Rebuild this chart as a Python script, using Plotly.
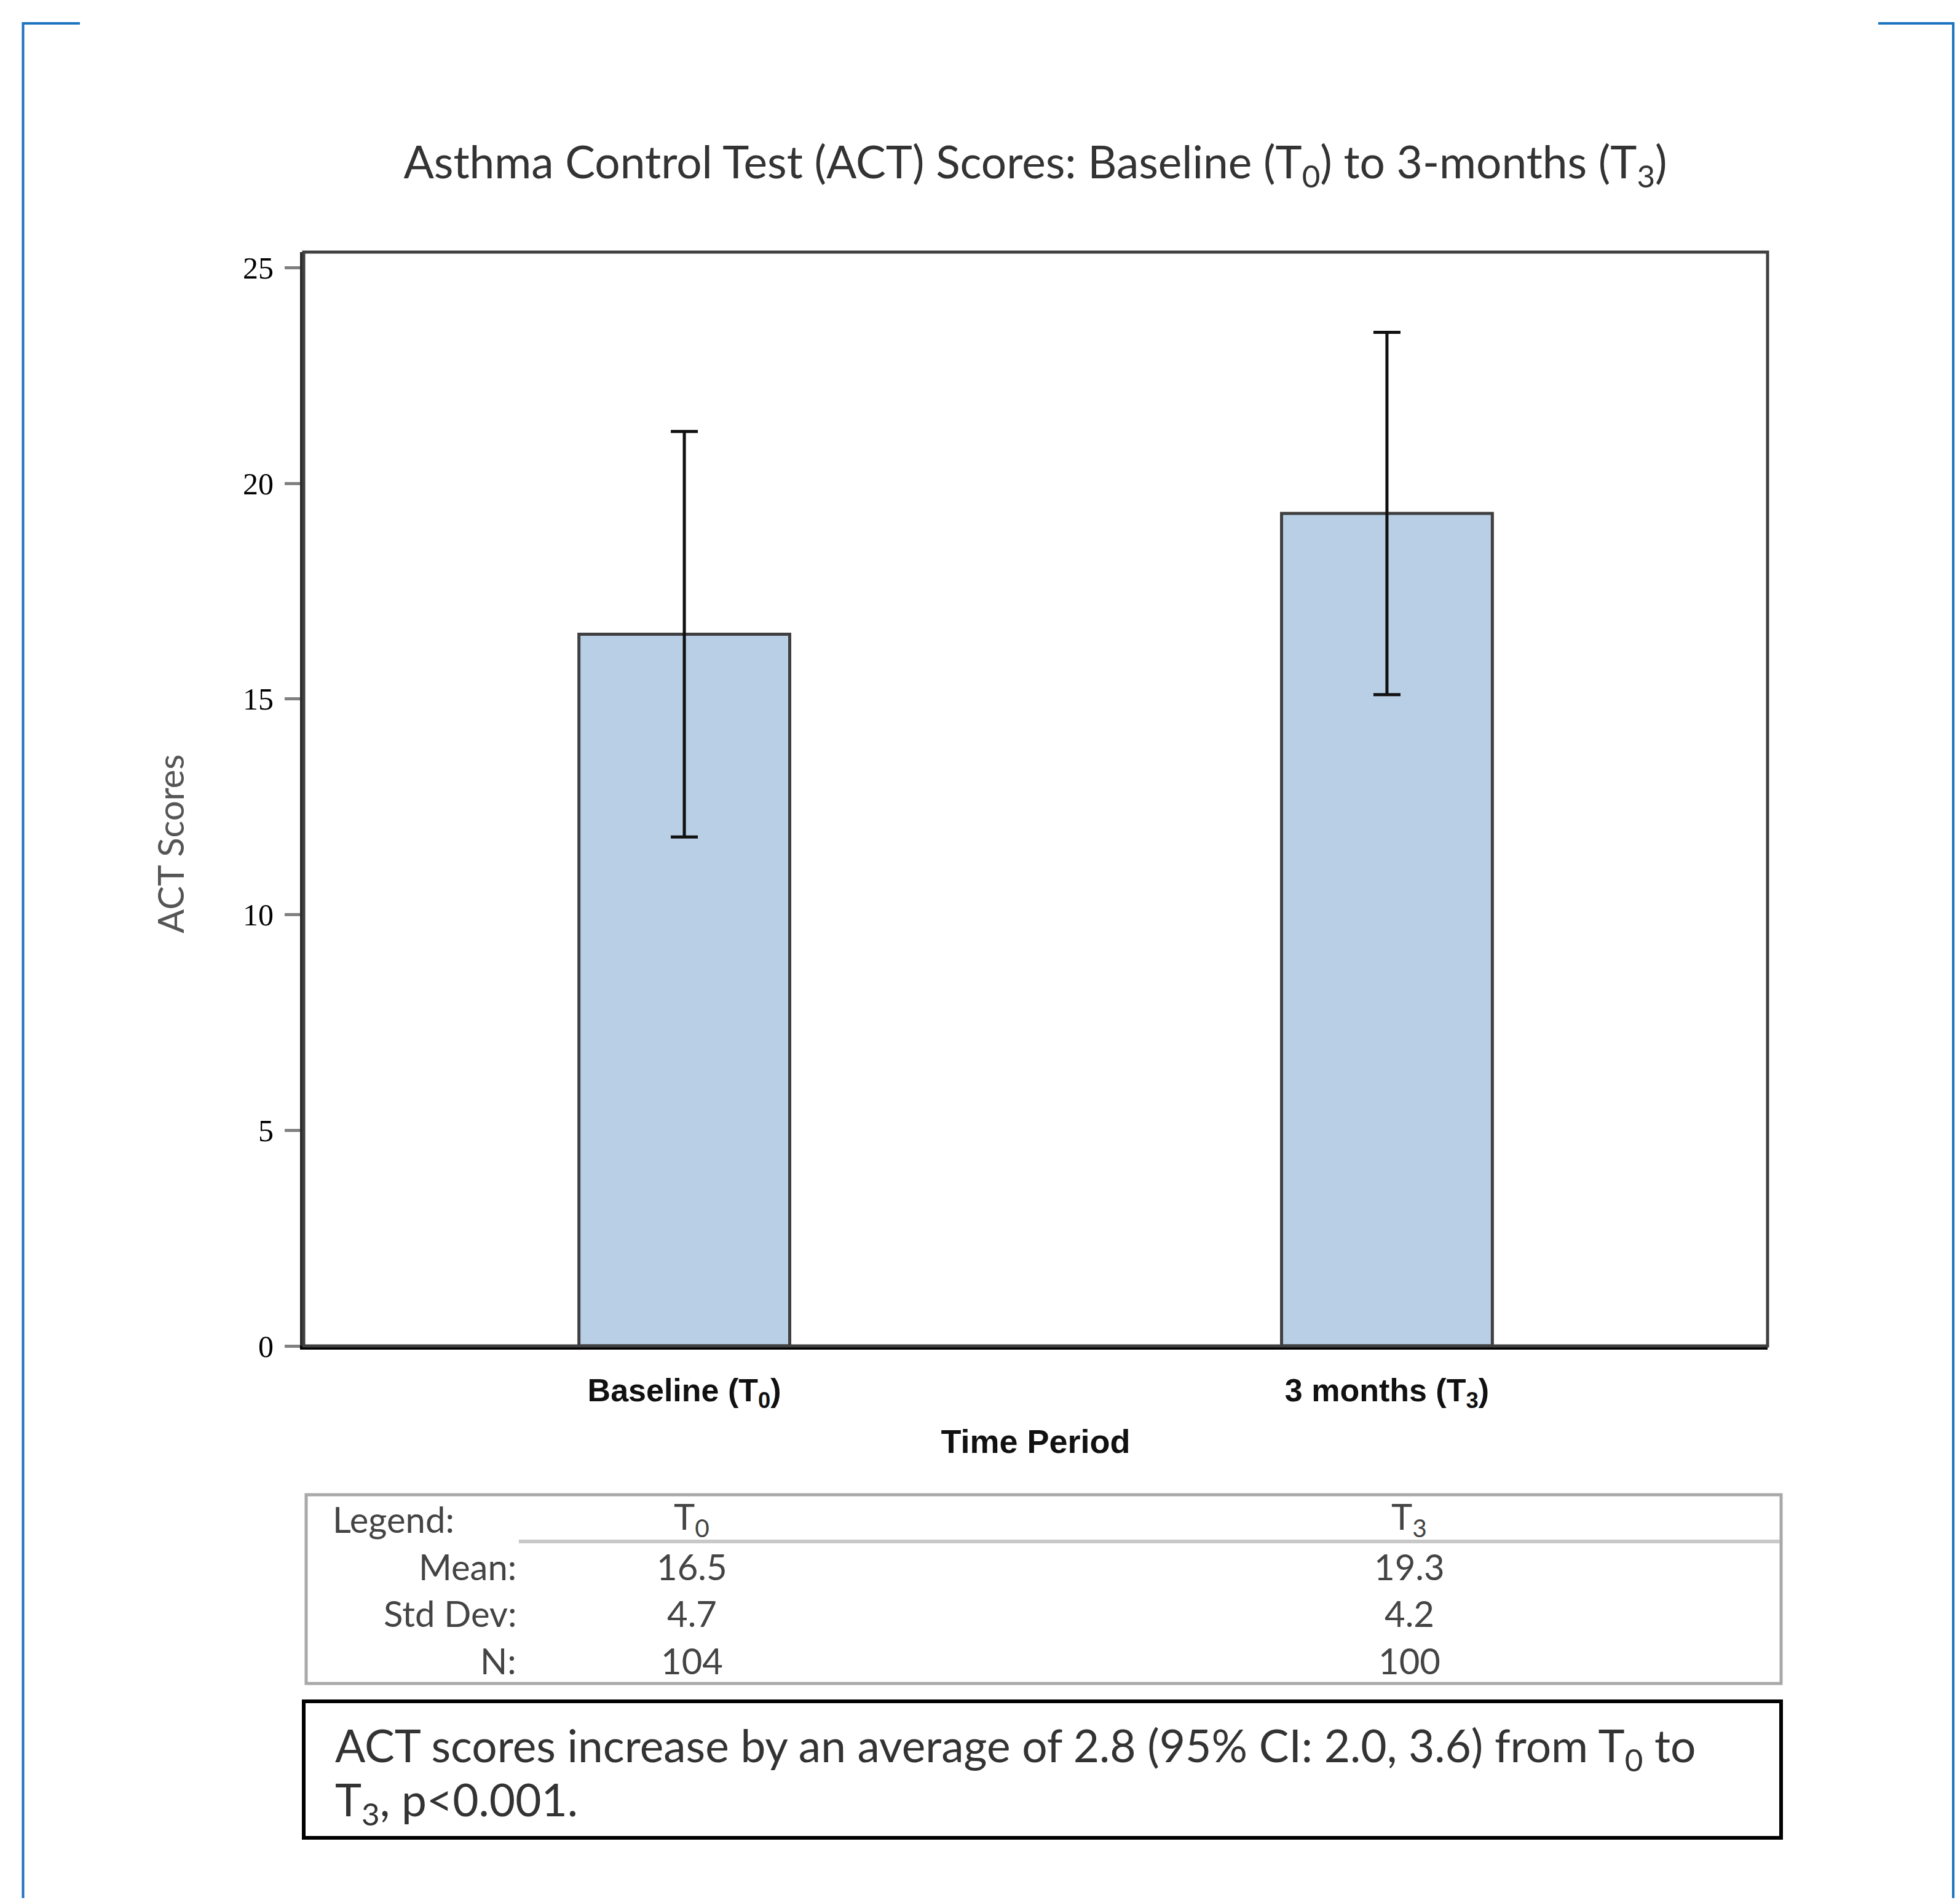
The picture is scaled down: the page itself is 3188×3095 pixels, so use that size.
import plotly.graph_objects as go

# ---------------- data ----------------
categories = ["Baseline (T0)", "3 months (T3)"]
category_labels = ["Baseline (T<sub>0</sub>)", "3 months (T<sub>3</sub>)"]
column_labels = ["T<sub>0</sub>", "T<sub>3</sub>"]
means = [16.5, 19.3]
std_devs = [4.7, 4.2]
counts = [104, 100]
diff_ci = [2.0, 3.6]
p_text = "p&lt;0.001"
y_ticks = [0, 5, 10, 15, 20, 25]

# ---------------- geometry (page pixels) ----------------
PAGE_W, PAGE_H = 3188, 3095
OFF = 8                       # default body margin of the html page
FW, FH = PAGE_W - 2 * OFF, PAGE_H - 2 * OFF
L, R, T, B = 494, 2875, 410, 2189   # plot area in page pixels
W, H = R - L, B - T


def px(x):
    return (x - L) / W


def py(y):
    return (B - y) / H


fig = go.Figure()
fig.add_trace(go.Bar(
    x=categories,
    y=means,
    width=0.30,
    marker=dict(color="#B9CFE6", line=dict(color="#404040", width=5)),
    error_y=dict(type="data", array=std_devs, visible=True,
                 color="#111111", thickness=5, width=22),
    showlegend=False,
    hoverinfo="skip",
))

shapes = []
shapes.append(dict(type="rect", xref="paper", yref="paper", x0=0, x1=1, y0=0, y1=1,
                   line=dict(color="#404040", width=5), layer="above"))
blue = "#1B74C1"
shapes += [
    dict(type="line", xref="paper", yref="paper", x0=px(37.5), x1=px(37.5), y0=py(36), y1=py(3110),
         line=dict(color=blue, width=4)),
    dict(type="line", xref="paper", yref="paper", x0=px(36), x1=px(130), y0=py(38), y1=py(38),
         line=dict(color=blue, width=4)),
    dict(type="line", xref="paper", yref="paper", x0=px(3055), x1=px(3179), y0=py(38), y1=py(38),
         line=dict(color=blue, width=4)),
    dict(type="line", xref="paper", yref="paper", x0=px(3177), x1=px(3177), y0=py(36), y1=py(3110),
         line=dict(color=blue, width=4)),
]
shapes.append(dict(type="rect", xref="paper", yref="paper", x0=px(498), x1=px(2897), y0=py(2431), y1=py(2738),
                   line=dict(color="#A8A8A8", width=5)))
shapes.append(dict(type="line", xref="paper", yref="paper", x0=px(844), x1=px(2895), y0=py(2507), y1=py(2507),
                   line=dict(color="#C8C8C8", width=6)))
shapes.append(dict(type="rect", xref="paper", yref="paper", x0=px(494), x1=px(2897), y0=py(2767), y1=py(2989),
                   line=dict(color="#000000", width=6)))

ann = []
tfont = "Lato, Noto Sans, sans-serif"
gray = "#444444"
ann.append(dict(text="ACT Scores", xref="paper", yref="paper", x=px(276), y=py(1373),
                textangle=-90, showarrow=False, xanchor="center", yanchor="middle",
                font=dict(family=tfont, size=58, color="#555555")))
lfs = 58
ann.append(dict(text="Legend:", xref="paper", yref="paper", x=px(539), y=py(2470),
                showarrow=False, xanchor="left", yanchor="middle",
                font=dict(family=tfont, size=lfs, color=gray)))
col_x = [1125, 2292]
for cx, lab in zip(col_x, column_labels):
    ann.append(dict(text=lab, xref="paper", yref="paper", x=px(cx), y=py(2470),
                    showarrow=False, xanchor="center", yanchor="middle",
                    font=dict(family=tfont, size=lfs, color=gray)))
row_labels = ["Mean:", "Std Dev:", "N:"]
row_y = [2547, 2623, 2700]
row_vals = [[f"{m:.1f}" for m in means], [f"{s:.1f}" for s in std_devs], [str(n) for n in counts]]
for lab, ry, vals in zip(row_labels, row_y, row_vals):
    ann.append(dict(text=lab, xref="paper", yref="paper", x=px(842), y=py(ry),
                    showarrow=False, xanchor="right", yanchor="middle",
                    font=dict(family=tfont, size=lfs, color=gray)))
    for cx, v in zip(col_x, vals):
        ann.append(dict(text=v, xref="paper", yref="paper", x=px(cx), y=py(ry),
                        showarrow=False, xanchor="center", yanchor="middle",
                        font=dict(family=tfont, size=lfs, color=gray)))
diff = round(means[1] - means[0], 1)
summary_1 = (f"ACT scores increase by an average of {diff:.1f} (95% CI: {diff_ci[0]:.1f}, {diff_ci[1]:.1f}) "
             f"from T<sub>0</sub> to")
summary_2 = f"T<sub>3</sub>, {p_text}."
for txt, yy in [(summary_1, 2843), (summary_2, 2931)]:
    ann.append(dict(text=txt, xref="paper", yref="paper", x=px(543), y=py(yy),
                    showarrow=False, xanchor="left", yanchor="middle", align="left",
                    font=dict(family=tfont, size=73, color="#333333")))

xfont = "Liberation Sans Narrow, Liberation Sans, Arial, sans-serif"
fig.update_layout(
    width=FW, height=FH,
    margin=dict(l=L - OFF, r=FW - (R - OFF), t=T - OFF, b=FH - (B - OFF)),
    paper_bgcolor="white", plot_bgcolor="white",
    title=dict(text="Asthma Control Test (ACT) Scores: Baseline (T<sub>0</sub>) to 3-months (T<sub>3</sub>)",
               x=px(1684), xref="paper", xanchor="center", y=1 - (264 - OFF) / FH, yanchor="middle",
               font=dict(family=tfont, size=73, color="#333333")),
    xaxis=dict(
        range=[-0.5417, 1.5417], tickvals=categories, ticktext=category_labels,
        showline=True, linecolor="#000000", linewidth=6, showgrid=False, zeroline=False,
        ticks="", ticklabelstandoff=22,
        tickfont=dict(family=xfont, size=52, color="#111111", weight="bold"),
        title=dict(text="Time Period", standoff=30,
                   font=dict(family=xfont, size=54, color="#111111", weight="bold")),
    ),
    yaxis=dict(
        range=[0, 25.36], tickvals=y_ticks, ticktext=[str(v) for v in y_ticks],
        showline=True, linecolor="#2A2A2A", linewidth=6, showgrid=False, zeroline=False,
        ticks="outside", ticklen=25, tickwidth=5, tickcolor="#808080", ticklabelstandoff=8,
        tickfont=dict(family="Liberation Serif, serif", size=50, color="#000000"),
    ),
    shapes=shapes,
    annotations=ann,
)

fig.write_html("out.html")
